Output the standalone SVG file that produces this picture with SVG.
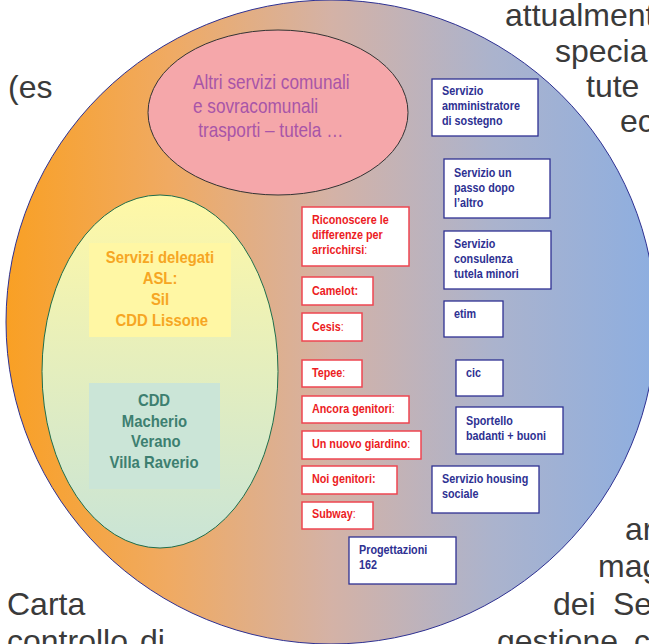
<svg xmlns="http://www.w3.org/2000/svg" width="649" height="644" viewBox="0 0 649 644">
<defs>
<linearGradient id="gBig" x1="6" y1="0" x2="656" y2="0" gradientUnits="userSpaceOnUse">
<stop offset="0" stop-color="#f9a024"/>
<stop offset="0.25" stop-color="#f0aa62"/>
<stop offset="0.5" stop-color="#d4b2a6"/>
<stop offset="0.75" stop-color="#abb3cd"/>
<stop offset="1" stop-color="#8daee0"/>
</linearGradient>
<linearGradient id="gEgg" x1="0" y1="0" x2="0" y2="1">
<stop offset="0" stop-color="#fff8a6"/>
<stop offset="1" stop-color="#c9e4d6"/>
</linearGradient>
<style>
.bg{font-family:"Liberation Sans",Arial,sans-serif;font-size:32px;fill:#3a3a3a}
.n{font-family:"Liberation Sans","Arial Narrow",Arial,sans-serif}
.rb{fill:#fff;stroke:#ee4550;stroke-width:1.5}
.bb{fill:#fff;stroke:#2e3192;stroke-width:1.3}
.rt{font-size:13px;font-weight:bold;fill:#ec1c24}
.bt{font-size:13px;font-weight:bold;fill:#2e3192}
.c{font-weight:normal}
</style>
</defs>
<rect width="649" height="644" fill="#fff"/>
<g id="background-text" class="bg">
<text x="505" y="26">attualment</text>
<text x="555" y="62">special</text>
<text x="586" y="97">tute</text>
<text x="620" y="132">ec</text>
<text x="8" y="98">(es</text>
<text x="7" y="615">Carta</text>
<text x="7" y="652">controllo<tspan x="140">di</tspan></text>
<text x="625" y="540">ar</text>
<text x="598" y="577">mag</text>
<text x="553" y="615">dei<tspan x="613">Se</tspan></text>
<text x="497" y="652">gestione<tspan x="634">c</tspan></text>
</g>
<g id="big-circle">
<ellipse cx="331" cy="322" rx="325" ry="322" fill="url(#gBig)" stroke="#2e3192" stroke-width="1"/>
</g>
<g id="altri-servizi">
<ellipse cx="278" cy="112.5" rx="130" ry="82.5" fill="#f5a7aa" stroke="#333" stroke-width="1"/>
<text class="n" font-size="20" fill="#a855a8" transform="translate(193,0) scale(0.86,1)"><tspan x="0" y="89">Altri servizi comunali</tspan><tspan x="0" y="113">e sovracomunali</tspan><tspan x="6" y="137">trasporti – tutela …</tspan></text>
</g>
<g id="asl-ellipse">
<ellipse cx="160" cy="371.5" rx="118" ry="176.5" fill="url(#gEgg)" stroke="#1f6e4c" stroke-width="1"/>
</g>
<g id="servizi-delegati">
<rect x="89" y="243" width="142" height="94" fill="#fff7a4"/>
<text class="n" font-size="16" font-weight="bold" fill="#f6a623" text-anchor="middle" transform="translate(160,0) scale(0.93,1)"><tspan x="0" y="263">Servizi delegati</tspan><tspan x="0" y="284">ASL:</tspan><tspan x="0" y="305">Sil</tspan><tspan x="2" y="326">CDD Lissone</tspan></text>
</g>
<g id="cdd-macherio">
<rect x="89" y="383" width="131" height="106" fill="#cbe5d7"/>
<text class="n" font-size="16" font-weight="bold" fill="#3d7f70" text-anchor="middle" transform="translate(154,0) scale(0.93,1)"><tspan x="0" y="406">CDD</tspan><tspan x="0.5" y="427">Macherio</tspan><tspan x="2" y="447">Verano</tspan><tspan x="0" y="468">Villa Raverio</tspan></text>
</g>
<g id="riconoscere"><rect class="rb" x="302" y="207" width="107" height="59"/><text class="n rt" transform="translate(312,0) scale(0.83,1)"><tspan x="0" y="224">Riconoscere le</tspan><tspan x="0" y="239">differenze per</tspan><tspan x="0" y="254">arricchirsi<tspan class="c">:</tspan></tspan></text></g>
<g id="camelot"><rect class="rb" x="302" y="277" width="71" height="28"/><text class="n rt" transform="translate(312,0) scale(0.83,1)" x="0" y="295">Camelot:</text></g>
<g id="cesis"><rect class="rb" x="302" y="313" width="60" height="28"/><text class="n rt" transform="translate(312,0) scale(0.83,1)" x="0" y="331">Cesis<tspan class="c">:</tspan></text></g>
<g id="tepee"><rect class="rb" x="302" y="360" width="60" height="27"/><text class="n rt" transform="translate(312,0) scale(0.83,1)" x="0" y="377">Tepee<tspan class="c">:</tspan></text></g>
<g id="ancora-genitori"><rect class="rb" x="302" y="396" width="107" height="27"/><text class="n rt" transform="translate(312,0) scale(0.83,1)" x="0" y="413">Ancora genitori<tspan class="c">:</tspan></text></g>
<g id="nuovo-giardino"><rect class="rb" x="302" y="431" width="119" height="28"/><text class="n rt" transform="translate(312,0) scale(0.83,1)" x="0" y="448">Un nuovo giardino<tspan class="c">:</tspan></text></g>
<g id="noi-genitori"><rect class="rb" x="302" y="466" width="95" height="28"/><text class="n rt" transform="translate(312,0) scale(0.83,1)" x="0" y="483">Noi genitori:</text></g>
<g id="subway"><rect class="rb" x="302" y="502" width="71" height="27"/><text class="n rt" transform="translate(312,0) scale(0.83,1)" x="0" y="518">Subway<tspan class="c">:</tspan></text></g>
<g id="amministratore"><rect class="bb" x="432" y="79" width="106" height="57"/><text class="n bt" transform="translate(442,0) scale(0.83,1)"><tspan x="0" y="95">Servizio</tspan><tspan x="0" y="110">amministratore</tspan><tspan x="0" y="125">di sostegno</tspan></text></g>
<g id="passo-dopo"><rect class="bb" x="444" y="159" width="106" height="59"/><text class="n bt" transform="translate(454,0) scale(0.83,1)"><tspan x="0" y="177">Servizio un</tspan><tspan x="0" y="192">passo dopo</tspan><tspan x="0" y="207">l’altro</tspan></text></g>
<g id="consulenza"><rect class="bb" x="444" y="231" width="107" height="58"/><text class="n bt" transform="translate(454,0) scale(0.83,1)"><tspan x="0" y="248">Servizio</tspan><tspan x="0" y="263">consulenza</tspan><tspan x="0" y="278">tutela minori</tspan></text></g>
<g id="etim"><rect class="bb" x="444" y="301" width="59" height="36"/><text class="n bt" transform="translate(454,0) scale(0.83,1)" x="0" y="318">etim</text></g>
<g id="cic"><rect class="bb" x="456" y="360" width="47" height="36"/><text class="n bt" transform="translate(466,0) scale(0.83,1)" x="0" y="377">cic</text></g>
<g id="sportello"><rect class="bb" x="456" y="407" width="107" height="47"/><text class="n bt" transform="translate(466,0) scale(0.83,1)"><tspan x="0" y="425">Sportello</tspan><tspan x="0" y="440">badanti + buoni</tspan></text></g>
<g id="housing"><rect class="bb" x="432" y="466" width="107" height="47"/><text class="n bt" transform="translate(442,0) scale(0.83,1)"><tspan x="0" y="483">Servizio housing</tspan><tspan x="0" y="498">sociale</tspan></text></g>
<g id="progettazioni"><rect class="bb" x="349" y="537" width="107" height="47"/><text class="n bt" transform="translate(359,0) scale(0.83,1)"><tspan x="0" y="554">Progettazioni</tspan><tspan x="0" y="569">162</tspan></text></g>
<g id="connectors"/>
</svg>
